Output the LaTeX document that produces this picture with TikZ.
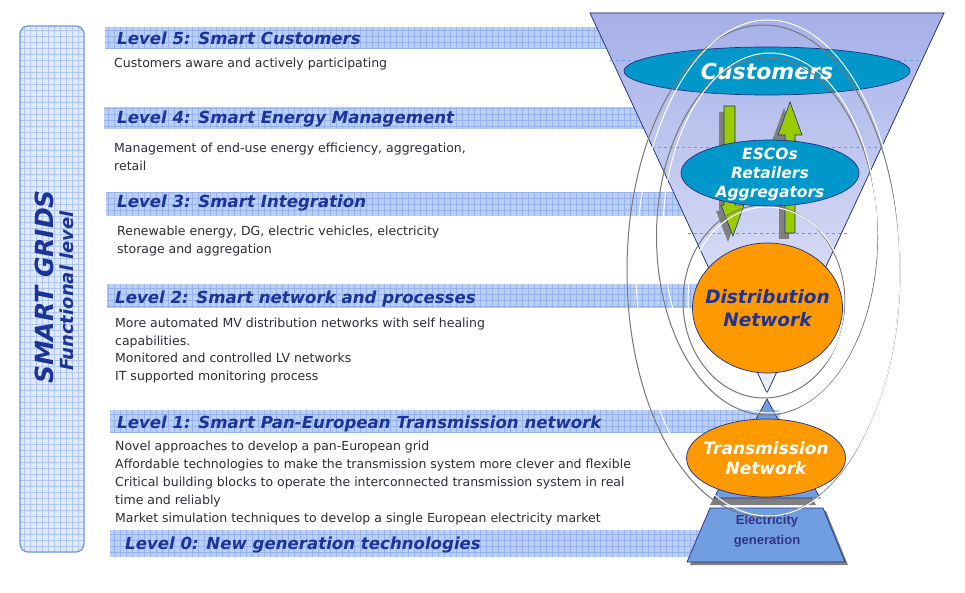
\documentclass[tikz,border=0pt]{standalone}
\usepackage{fontspec}
\setmainfont{DejaVu Sans}
\newfontfamily\arialfont{Liberation Sans}
\usetikzlibrary{shapes.geometric}
\definecolor{headblue}{RGB}{28,52,150}
\definecolor{desc}{RGB}{45,45,55}
\definecolor{bandfill}{RGB}{188,206,242}
\definecolor{bandgrid}{RGB}{150,180,235}
\definecolor{boxfill}{RGB}{226,234,250}
\definecolor{boxgrid}{RGB}{175,198,240}
\definecolor{boxedge}{RGB}{110,150,220}
\definecolor{funtop}{RGB}{166,176,232}
\definecolor{funbot}{RGB}{236,239,251}
\definecolor{navy}{RGB}{35,45,130}
\definecolor{cyanfill}{RGB}{0,152,202}
\definecolor{orangefill}{RGB}{255,153,0}
\definecolor{greenfill}{RGB}{153,204,0}
\definecolor{pyrblue}{RGB}{112,158,225}
\definecolor{shadowgray}{RGB}{128,128,128}
\definecolor{ellgray}{RGB}{120,120,120}
\definecolor{dashblue}{RGB}{110,150,220}
\definecolor{eltext}{RGB}{50,50,140}
\newcommand\gridband[4]{%
  \begin{scope}
    \clip (#1,#2) rectangle (#3,#4);
    \fill[bandfill] (#1,#2) rectangle (#3,#4);
    \draw[bandgrid, line width=0.4pt] (#1,#2) grid[step=6pt] (#3,#4);
  \end{scope}}
\begin{document}
\begin{tikzpicture}[x=1pt,y=-1pt,
  hd/.style={anchor=base west, inner sep=0pt, font=\fontsize{16.6}{18}\selectfont\bfseries\itshape, text=headblue},
  ds/.style={anchor=base west, inner sep=0pt, font=\fontsize{12.5}{14}\selectfont, text=desc},
  ellbox/.style={ellipse, draw=navy, line width=0.7pt, inner sep=0pt},
  ctext/.style={align=center, inner sep=0pt, font=\bfseries\itshape},
  gring/.style={draw=ellgray, line width=1pt},
  wring/.style={draw=white, line width=1pt},
  shad/.style={fill=shadowgray},
  dsh/.style={draw=dashblue, dashed, line width=0.6pt}]
\useasboundingbox (0,0) rectangle (965,593);
\fill[white] (0,0) rectangle (965,593);

% left box
\begin{scope}
  \clip[rounded corners=8pt] (20,26) rectangle (84,552);
  \fill[boxfill] (20,26) rectangle (84,552);
  \draw[boxgrid, line width=0.4pt] (20,26) grid[step=6pt] (84,552);
\end{scope}
\draw[boxedge, line width=1.2pt, rounded corners=8pt] (20,26) rectangle (84,552);
\node[rotate=90, inner sep=0pt, font=\fontsize{25}{28}\selectfont\bfseries\itshape, text=headblue] (sg) at (44,287) {SMART GRIDS};
\node[rotate=90, inner sep=0pt, font=\fontsize{18}{20}\selectfont\bfseries\itshape, text=headblue] (fl) at (67,291) {Functional level};

% bands
\gridband{105}{27}{640}{49}
\gridband{104}{107}{680}{129}
\gridband{106}{192}{700}{216}
\gridband{107}{284}{720}{308}
\gridband{110}{410}{780}{433}
\gridband{110}{530}{720}{557}

% headings
\node[hd] (h5) at (117,45) {Level 5: Smart Customers};
\node[hd] (h4) at (117,124) {Level 4: Smart Energy Management};
\node[hd] (h3) at (117,208) {Level 3: Smart Integration};
\node[hd] (h2) at (115,303) {Level 2: Smart network and processes};
\node[hd] (h1) at (117,428) {Level 1: Smart Pan-European Transmission network};
\node[hd] (h0) at (125,549) {Level 0: New generation technologies};

% descriptions
\node[ds] (d51) at (114,67.5) {Customers aware and actively participating};
\node[ds] (d41) at (114,152.5) {Management of end-use energy efficiency, aggregation,};
\node[ds] (d42) at (114,170.5) {retail};
\node[ds] (d31) at (117,235.5) {Renewable energy, DG, electric vehicles, electricity};
\node[ds] (d32) at (117,253.5) {storage and aggregation};
\node[ds] (d21) at (115,327.5) {More automated MV distribution networks with self healing};
\node[ds] (d22) at (115,345.5) {capabilities.};
\node[ds] (d23) at (115,362.5) {Monitored and controlled LV networks};
\node[ds] (d24) at (115,380.5) {IT supported monitoring process};
\node[ds] (d11) at (115,450.5) {Novel approaches to develop a pan-European grid};
\node[ds] (d12) at (115,468.5) {Affordable technologies to make the transmission system more clever and flexible};
\node[ds] (d13) at (115,486.5) {Critical building blocks to operate the interconnected transmission system in real};
\node[ds] (d14) at (115,504.5) {time and reliably};
\node[ds] (d15) at (115,522.5) {Market simulation techniques to develop a single European electricity market};

% funnel
\fill[top color=funtop, bottom color=funbot] (590,13) -- (944,13) -- (767,393) -- cycle;
\draw[navy, line width=0.7pt] (590,13) -- (944,13) -- (767,393) -- cycle;
\draw[dsh] (610,60) -- (923,60);
\draw[dsh] (652,147) -- (885,147);
\draw[dsh] (688,233) -- (847,233);

% customers
\node[ellbox, fill=cyanfill, minimum width=286pt, minimum height=48pt] (cust) at (767,71) {};
\node[ctext, text=white, font=\fontsize{22}{24}\selectfont\bfseries\itshape] (custt) at (767,71) {Customers};

% pyramid under transmission
\fill[shad] (763,406) -- (816,505) -- (710,505) -- cycle;
\draw[navy, fill=pyrblue, line width=0.7pt] (767,399) -- (820,498) -- (714,498) -- cycle;
% electricity generation
\fill[shad] (713,511) -- (826,511) -- (848,565) -- (690,565) -- cycle;
\draw[navy, fill=pyrblue, line width=0.7pt] (710,508) -- (823,508) -- (845,562) -- (687,562) -- cycle;
\node[align=center, inner sep=0pt, text=eltext, font=\arialfont\fontsize{13}{20}\selectfont\bfseries] (gent) at (767,531) {Electricity\\generation};

% arrows
\fill[shad] (719,112) -- (730,112) -- (730,211) -- (739,211) -- (728,242) -- (716,211) -- (719,211) -- cycle;
\draw[navy, fill=greenfill, line width=0.6pt] (724,106) -- (735,106) -- (735,205) -- (744,205) -- (733,236) -- (721,205) -- (724,205) -- cycle;
\fill[shad] (779,239) -- (789,239) -- (789,141) -- (796,141) -- (784,108) -- (772,141) -- (779,141) -- cycle;
\draw[navy, fill=greenfill, line width=0.6pt] (785,233) -- (795,233) -- (795,135) -- (802,135) -- (790,102) -- (778,135) -- (785,135) -- cycle;

% rings
\draw[gring] (763.5,271) ellipse [x radius=136.5pt, y radius=246pt];
\draw[wring] (768,268) ellipse [x radius=132pt, y radius=248pt];
\draw[gring] (767,236.5) ellipse [x radius=110.5pt, y radius=178.5pt];
\draw[wring] (770,233) ellipse [x radius=107pt, y radius=180pt];
\draw[gring] (764,301.5) ellipse [x radius=81pt, y radius=96.5pt];
\draw[wring] (767,300) ellipse [x radius=79pt, y radius=93pt];

% ESCOs
\node[ellbox, fill=cyanfill, minimum width=178pt, minimum height=66pt] (esco) at (770,173) {};
\node[ctext, text=white, font=\fontsize{15.5}{19}\selectfont\bfseries\itshape] (escot) at (770,174) {ESCOs\\Retailers\\Aggregators};

% distribution
\node[ellbox, fill=orangefill, minimum width=150pt, minimum height=130pt] (dist) at (767.5,308) {};
\node[ctext, text=headblue, font=\fontsize{18.5}{23}\selectfont\bfseries\itshape] (distt) at (767.5,308) {Distribution\\Network};

% transmission
\node[ellbox, fill=orangefill, minimum width=159pt, minimum height=78pt] (trans) at (766,458) {};
\node[ctext, text=white, font=\fontsize{17}{20}\selectfont\bfseries\itshape] (transt) at (766,458) {Transmission\\Network};
\end{tikzpicture}
\end{document}
